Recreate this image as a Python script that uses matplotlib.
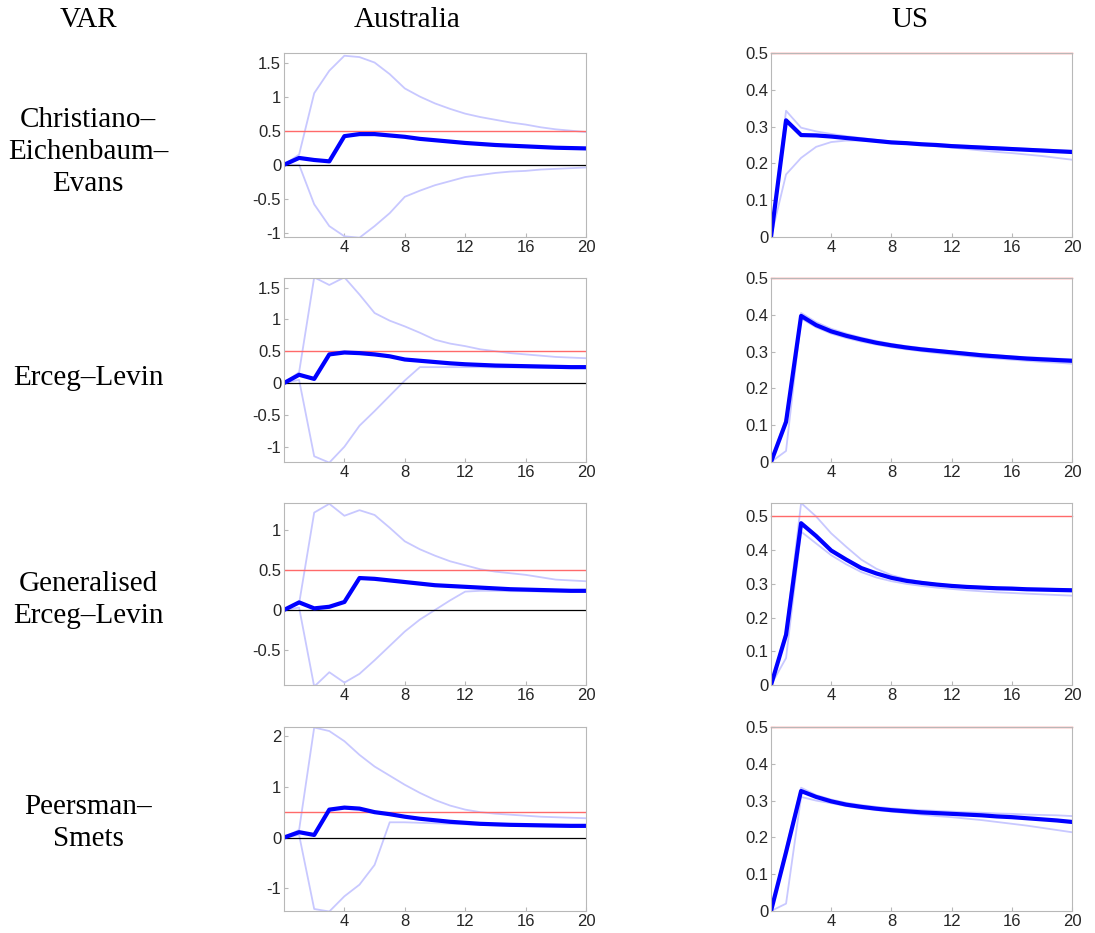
import matplotlib
matplotlib.use("Agg")
import matplotlib.pyplot as plt

# horizon (quarters)
horizon = list(range(21))

row_labels = ["Christiano\u2013\nEichenbaum\u2013\nEvans", "Erceg\u2013Levin",
              "Generalised\nErceg\u2013Levin", "Peersman\u2013\nSmets"]
col_labels = ["VAR", "Australia", "US"]

# Australia: impulse response, upper and lower bands
aus_cee_irf = [0, 0.10, 0.07, 0.05, 0.42, 0.45, 0.45, 0.43, 0.41, 0.38, 0.36, 0.34, 0.32, 0.305, 0.29, 0.28, 0.27, 0.26, 0.25, 0.245, 0.24]
aus_cee_hi = [0, 0.15, 1.05, 1.38, 1.60, 1.58, 1.50, 1.33, 1.12, 1.00, 0.90, 0.82, 0.75, 0.70, 0.66, 0.62, 0.59, 0.55, 0.52, 0.50, 0.48]
aus_cee_lo = [0, 0.0, -0.58, -0.90, -1.05, -1.07, -0.90, -0.71, -0.47, -0.38, -0.30, -0.24, -0.18, -0.15, -0.12, -0.10, -0.09, -0.07, -0.06, -0.05, -0.04]

aus_el_irf = [0, 0.13, 0.065, 0.45, 0.48, 0.47, 0.45, 0.42, 0.37, 0.35, 0.33, 0.31, 0.295, 0.285, 0.275, 0.27, 0.265, 0.26, 0.255, 0.25, 0.25]
aus_el_hi = [0, 0.17, 1.66, 1.54, 1.66, 1.39, 1.10, 0.98, 0.89, 0.79, 0.68, 0.62, 0.58, 0.53, 0.50, 0.47, 0.45, 0.43, 0.41, 0.40, 0.39]
aus_el_lo = [0, 0.05, -1.15, -1.25, -1.0, -0.67, -0.44, -0.2, 0.04, 0.25, 0.25, 0.25, 0.25, 0.25, 0.245, 0.245, 0.245, 0.24, 0.24, 0.24, 0.24]

aus_gel_irf = [0, 0.095, 0.02, 0.04, 0.10, 0.40, 0.39, 0.37, 0.35, 0.33, 0.31, 0.30, 0.29, 0.28, 0.27, 0.26, 0.255, 0.25, 0.245, 0.24, 0.24]
aus_gel_hi = [0, 0.08, 1.22, 1.33, 1.18, 1.25, 1.19, 1.03, 0.86, 0.76, 0.68, 0.61, 0.56, 0.51, 0.48, 0.46, 0.44, 0.41, 0.38, 0.37, 0.36]
aus_gel_lo = [0, 0.03, -0.96, -0.78, -0.91, -0.80, -0.63, -0.45, -0.27, -0.12, 0.0, 0.12, 0.23, 0.24, 0.24, 0.235, 0.235, 0.23, 0.23, 0.225, 0.225]

aus_ps_irf = [0, 0.105, 0.05, 0.55, 0.59, 0.57, 0.50, 0.46, 0.41, 0.37, 0.34, 0.31, 0.29, 0.27, 0.26, 0.25, 0.245, 0.24, 0.235, 0.23, 0.23]
aus_ps_hi = [0, 0.15, 2.17, 2.10, 1.90, 1.63, 1.40, 1.22, 1.04, 0.88, 0.74, 0.63, 0.55, 0.50, 0.47, 0.45, 0.43, 0.41, 0.40, 0.39, 0.38]
aus_ps_lo = [0, 0.05, -1.41, -1.46, -1.16, -0.93, -0.54, 0.30, 0.30, 0.29, 0.28, 0.27, 0.26, 0.25, 0.24, 0.23, 0.225, 0.22, 0.215, 0.21, 0.21]

# US
us_cee_irf = [0, 0.317, 0.277, 0.276, 0.273, 0.269, 0.265, 0.261, 0.257, 0.255, 0.252, 0.25, 0.247, 0.245, 0.243, 0.241, 0.239, 0.237, 0.235, 0.233, 0.231]
us_cee_hi = [0, 0.343, 0.297, 0.287, 0.28, 0.274, 0.269, 0.264, 0.26, 0.257, 0.254, 0.252, 0.25, 0.248, 0.246, 0.244, 0.242, 0.240, 0.238, 0.236, 0.235]
us_cee_lo = [0, 0.17, 0.215, 0.245, 0.258, 0.262, 0.262, 0.26, 0.256, 0.253, 0.25, 0.246, 0.243, 0.239, 0.235, 0.231, 0.228, 0.224, 0.22, 0.215, 0.21]

us_el_irf = [0, 0.109, 0.397, 0.372, 0.355, 0.343, 0.333, 0.324, 0.317, 0.311, 0.306, 0.302, 0.298, 0.294, 0.290, 0.287, 0.284, 0.281, 0.279, 0.277, 0.275]
us_el_hi = [0, 0.12, 0.405, 0.38, 0.362, 0.349, 0.338, 0.329, 0.321, 0.315, 0.31, 0.305, 0.301, 0.297, 0.293, 0.29, 0.287, 0.285, 0.283, 0.281, 0.279]
us_el_lo = [0, 0.03, 0.39, 0.366, 0.349, 0.337, 0.327, 0.319, 0.312, 0.306, 0.301, 0.296, 0.292, 0.288, 0.284, 0.281, 0.278, 0.275, 0.272, 0.270, 0.267]

us_gel_irf = [0, 0.149, 0.48, 0.442, 0.399, 0.372, 0.347, 0.331, 0.318, 0.309, 0.303, 0.298, 0.294, 0.291, 0.289, 0.287, 0.286, 0.284, 0.283, 0.282, 0.281]
us_gel_hi = [0, 0.16, 0.54, 0.50, 0.45, 0.41, 0.372, 0.345, 0.326, 0.314, 0.306, 0.300, 0.296, 0.293, 0.291, 0.289, 0.288, 0.287, 0.286, 0.285, 0.284]
us_gel_lo = [0, 0.08, 0.455, 0.42, 0.385, 0.358, 0.335, 0.319, 0.308, 0.300, 0.294, 0.289, 0.285, 0.281, 0.278, 0.275, 0.273, 0.271, 0.269, 0.267, 0.265]

us_ps_irf = [0, 0.16, 0.326, 0.31, 0.298, 0.289, 0.283, 0.278, 0.274, 0.271, 0.268, 0.266, 0.264, 0.262, 0.26, 0.257, 0.255, 0.252, 0.249, 0.246, 0.242]
us_ps_hi = [0, 0.17, 0.335, 0.315, 0.303, 0.294, 0.288, 0.283, 0.279, 0.276, 0.274, 0.272, 0.27, 0.268, 0.267, 0.265, 0.264, 0.262, 0.261, 0.26, 0.258]
us_ps_lo = [0, 0.02, 0.31, 0.30, 0.293, 0.285, 0.279, 0.274, 0.27, 0.266, 0.262, 0.258, 0.255, 0.251, 0.247, 0.242, 0.237, 0.232, 0.226, 0.22, 0.214]

target = 0.5

aus_series = [(aus_cee_irf, aus_cee_hi, aus_cee_lo), (aus_el_irf, aus_el_hi, aus_el_lo),
              (aus_gel_irf, aus_gel_hi, aus_gel_lo), (aus_ps_irf, aus_ps_hi, aus_ps_lo)]
us_series = [(us_cee_irf, us_cee_hi, us_cee_lo), (us_el_irf, us_el_hi, us_el_lo),
             (us_gel_irf, us_gel_hi, us_gel_lo), (us_ps_irf, us_ps_hi, us_ps_lo)]

aus_ylims = [(-1.06, 1.64), (-1.24, 1.65), (-0.94, 1.34), (-1.45, 2.18)]
aus_yticks = [[-1, -0.5, 0, 0.5, 1, 1.5], [-1, -0.5, 0, 0.5, 1, 1.5],
              [-0.5, 0, 0.5, 1], [-1, 0, 1, 2]]
us_ylims = [(0, 0.5), (0, 0.5), (0, 0.54), (0, 0.5)]
us_yticks = [0, 0.1, 0.2, 0.3, 0.4, 0.5]

W, H = 1095, 933
row_tops = [53, 278, 503, 727]
row_heights = [184, 184, 182, 184]
row_label_y = [152, 378, 600, 823]

fig = plt.figure(figsize=(W / 100, H / 100), dpi=100)
serif = "Liberation Serif"


def style_axes(ax, ylim, yticks):
    ax.set_xlim(0, 20)
    ax.set_ylim(*ylim)
    ax.set_xticks([4, 8, 12, 16, 20])
    ax.set_xticklabels(["4", "8", "12", "16", "20"])
    ax.set_yticks(yticks)
    ax.set_yticklabels(["%g" % t for t in yticks])
    for s in ax.spines.values():
        s.set_color("#b8b8b8")
        s.set_linewidth(0.8)
    ax.tick_params(direction="in", length=3, color="#b8b8b8", labelsize=12,
                   labelcolor="#262626", pad=2)
    for lab in ax.get_xticklabels() + ax.get_yticklabels():
        lab.set_family("Liberation Sans")


for i in range(4):
    bottom = (H - row_tops[i] - row_heights[i]) / H
    h = row_heights[i] / H

    ax = fig.add_axes([284 / W, bottom, 302 / W, h])
    irf, hi, lo = aus_series[i]
    ax.plot(horizon, hi, color="#c8c8ff", lw=1.3)
    ax.plot(horizon, lo, color="#c8c8ff", lw=1.3)
    ax.axhline(0, color="black", lw=0.9)
    ax.axhline(target, color="#ff6a6a", lw=1.0)
    ax.plot(horizon, irf, color="#0000ff", lw=3)
    style_axes(ax, aus_ylims[i], aus_yticks[i])

    ax = fig.add_axes([771 / W, bottom, 301 / W, h])
    irf, hi, lo = us_series[i]
    ax.plot(horizon, hi, color="#c8c8ff", lw=1.3)
    ax.plot(horizon, lo, color="#c8c8ff", lw=1.3)
    ax.axhline(target, color="#ff6a6a", lw=1.0, clip_on=False)
    ax.plot(horizon, irf, color="#0000ff", lw=3)
    style_axes(ax, us_ylims[i], us_yticks)

    fig.text(88 / W, 1 - row_label_y[i] / H, row_labels[i], family=serif,
             fontsize=21, ha="center", va="center", multialignment="center",
             linespacing=1.3)

fig.text(88 / W, 1 - 20 / H, col_labels[0], family=serif, fontsize=21, ha="center", va="center")
fig.text(407 / W, 1 - 20 / H, col_labels[1], family=serif, fontsize=21, ha="center", va="center")
fig.text(910 / W, 1 - 20 / H, col_labels[2], family=serif, fontsize=21, ha="center", va="center")

fig.savefig("out.png", dpi=100, facecolor="white")
